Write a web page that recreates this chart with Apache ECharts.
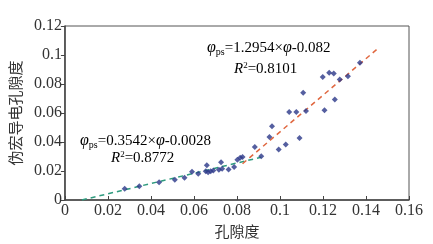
<!DOCTYPE html>
<html>
<head>
<meta charset="utf-8">
<script src="https://cdn.jsdelivr.net/npm/echarts@6/dist/echarts.min.js"></script>
<style>
  html, body { margin: 0; padding: 0; background: #fff; }
  #chart { width: 433px; height: 244px; }
</style>
</head>
<body>
<div id="chart"></div>
<script>
// measured points: porosity (x) vs pseudo macro conductive porosity (y)
var porosity = [
  0.0278, 0.0346, 0.0438, 0.0511, 0.0556, 0.0591, 0.0620, 0.0660, 0.0655, 0.0666,
  0.0678, 0.0690, 0.0716, 0.0726, 0.0731, 0.0761, 0.0787, 0.0802, 0.0815, 0.0826,
  0.0883, 0.0913, 0.0951, 0.0963, 0.0994, 0.1027, 0.1043, 0.1076, 0.1091, 0.1121,
  0.1108, 0.1199, 0.1229, 0.1250, 0.1278, 0.1316, 0.1372, 0.1255, 0.1207
];
var pseudoPorosity = [
  0.0077, 0.0095, 0.0123, 0.0140, 0.0154, 0.0195, 0.0181, 0.0239, 0.0199, 0.0192,
  0.0199, 0.0204, 0.0209, 0.0261, 0.0216, 0.0211, 0.0227, 0.0278, 0.0292, 0.0296,
  0.0365, 0.0301, 0.0434, 0.0508, 0.0349, 0.0382, 0.0607, 0.0607, 0.0427, 0.0614,
  0.0739, 0.0849, 0.0877, 0.0873, 0.0831, 0.0854, 0.0946, 0.0693, 0.0619
];
// fitted line end points as drawn
var lowFitX = [0.0079, 0.0913];
var lowFitY = [0.0, 0.0295];
var highFitX = [0.0826, 0.1453];
var highFitY = [0.0250, 0.1042];
var xTicks = { min: 0, max: 0.16, step: 0.02 };
var yTicks = { min: 0, max: 0.12, step: 0.02 };

function pairs(xs, ys) {
    var out = [];
    for (var i = 0; i < xs.length; i++) {
        out.push([xs[i], ys[i]]);
    }
    return out;
}

var serif = 'Liberation Serif';
var cjk = 'Noto Sans CJK SC';

var eqRich = {
    phi: { fontFamily: serif, fontStyle: 'italic', fontSize: 16, color: '#222' },
    sub: { fontFamily: serif, fontSize: 10, color: '#222', padding: [8, 0, 0, 0] },
    n: { fontFamily: serif, fontSize: 15, color: '#222' },
    r: { fontFamily: serif, fontStyle: 'italic', fontSize: 15, color: '#222' },
    sup: { fontFamily: serif, fontSize: 9, color: '#222', padding: [0, 0, 7, 0] }
};

var option = {
    animation: false,
    backgroundColor: '#fff',
    grid: {
        left: 58,
        right: 24,
        top: 26,
        bottom: 44,
        show: true,
        borderColor: '#555',
        borderWidth: 1
    },
    xAxis: {
        type: 'value',
        min: xTicks.min,
        max: xTicks.max,
        interval: xTicks.step,
        name: '孔隙度',
        nameLocation: 'middle',
        nameGap: 19,
        nameTextStyle: { fontFamily: cjk, fontSize: 15, color: '#333' },
        axisLine: { show: true, onZero: false, lineStyle: { color: '#444', width: 1.5 } },
        axisTick: { show: true, inside: true, length: 4, lineStyle: { color: '#444' } },
        axisLabel: { fontFamily: serif, fontSize: 16, color: '#333', margin: 3 },
        splitLine: { show: false }
    },
    yAxis: {
        type: 'value',
        min: yTicks.min,
        max: yTicks.max,
        interval: yTicks.step,
        name: '伪宏导电孔隙度',
        nameLocation: 'middle',
        nameGap: 37,
        nameTextStyle: { fontFamily: cjk, fontSize: 15, color: '#333' },
        axisLine: { show: true, onZero: false, lineStyle: { color: '#444', width: 1.5 } },
        axisTick: { show: true, inside: false, length: 4, lineStyle: { color: '#444' } },
        axisLabel: { fontFamily: serif, fontSize: 16, color: '#333', margin: 3 },
        splitLine: { show: false }
    },
    series: [{
        name: 'low fit',
        type: 'line',
        symbol: 'none',
        data: pairs(lowFitX, lowFitY),
        lineStyle: { color: '#2f9b7e', width: 1.5, type: [5, 4] },
        z: 2
    }, {
        name: 'high fit',
        type: 'line',
        symbol: 'none',
        data: pairs(highFitX, highFitY),
        lineStyle: { color: '#e0673f', width: 1.5, type: [5, 4] },
        z: 2
    }, {
        name: 'samples',
        type: 'scatter',
        symbol: 'diamond',
        symbolSize: 6,
        data: pairs(porosity, pseudoPorosity),
        itemStyle: { color: '#2b3788' },
        z: 3
    }],
    graphic: [{
        type: 'text',
        left: 207,
        top: 40,
        style: {
            text: '{phi|φ}{sub|ps}{n|=1.2954×}{phi|φ}{n|-0.082}',
            rich: eqRich
        }
    }, {
        type: 'text',
        left: 234,
        top: 61,
        style: {
            text: '{r|R}{sup|2}{n|=0.8101}',
            rich: eqRich
        }
    }, {
        type: 'text',
        left: 80,
        top: 133,
        style: {
            text: '{phi|φ}{sub|ps}{n|=0.3542×}{phi|φ}{n|-0.0028}',
            rich: eqRich
        }
    }, {
        type: 'text',
        left: 111,
        top: 150,
        style: {
            text: '{r|R}{sup|2}{n|=0.8772}',
            rich: eqRich
        }
    }]
};

echarts.init(document.getElementById('chart')).setOption(option);
</script>
</body>
</html>
